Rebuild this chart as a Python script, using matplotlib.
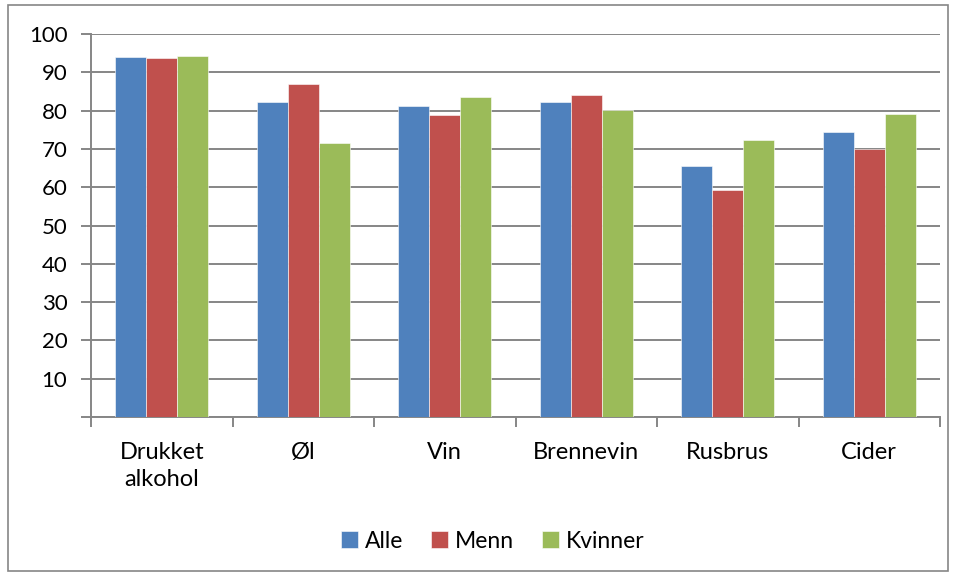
import matplotlib.pyplot as plt
from matplotlib.patches import Rectangle
import numpy as np

plt.rcParams['font.family'] = ['Lato', 'DejaVu Sans']

categories = ['Drukket\nalkohol', 'Øl', 'Vin', 'Brennevin', 'Rusbrus', 'Cider']
alle = [94.1, 82.3, 81.2, 82.3, 65.6, 74.4]
menn = [93.8, 87.0, 78.9, 84.1, 59.3, 70.0]
kvinner = [94.3, 71.6, 83.6, 80.2, 72.3, 79.1]

series = [('Alle', alle, '#4F81BD'),
          ('Menn', menn, '#C0504D'),
          ('Kvinner', kvinner, '#9BBB59')]


def main():
    fig = plt.figure(figsize=(9.57, 5.75), dpi=100)
    ax = fig.add_axes([91 / 957, 1 - 417 / 575, (940 - 91) / 957, (417 - 34) / 575])

    # outer frame like the spreadsheet chart area
    fig.patches.append(Rectangle((8 / 957, 4 / 575), 940 / 957, 566 / 575,
                                 transform=fig.transFigure, fill=False,
                                 edgecolor='#868686', linewidth=1.2))

    x = np.arange(len(categories))
    width = 0.22
    for i, (name, vals, color) in enumerate(series):
        ax.bar(x + (i - 1) * width, vals, width, color=color, label=name,
               edgecolor='white', linewidth=0.4, zorder=3)

    ax.set_xlim(-0.5, len(categories) - 0.5)
    ax.set_ylim(0, 100)
    ax.set_yticks(range(0, 101, 10))
    ax.set_yticklabels([''] + [str(v) for v in range(10, 101, 10)])
    ax.yaxis.grid(True, color='#868686', linewidth=1.4, zorder=0)
    ax.set_axisbelow(True)

    # category labels centered, ticks at boundaries
    ax.set_xticks(x)
    ax.set_xticklabels(categories, fontsize=17, linespacing=1.35)
    ax.tick_params(axis='x', length=0, pad=18)
    ax.set_xticks(np.arange(-0.5, len(categories)), minor=True)
    ax.tick_params(axis='x', which='minor', length=7, color='#868686', width=1.4)
    ax.tick_params(axis='y', length=7, color='#868686', width=1.4,
                   labelsize=16, pad=10)

    for s in ['top', 'right']:
        ax.spines[s].set_visible(False)
    for s in ['left', 'bottom']:
        ax.spines[s].set_color('#868686')
        ax.spines[s].set_linewidth(1.4)

    handles, labels = ax.get_legend_handles_labels()
    fig.legend(handles, labels, loc='center', bbox_to_anchor=(0.515, 1 - 541 / 575),
               ncol=3, frameon=False, fontsize=16.5, handlelength=0.75,
               handleheight=0.75, handletextpad=0.3, columnspacing=1.2)

    fig.savefig('out.png', dpi=100)


if __name__ == "__main__":
    main()
